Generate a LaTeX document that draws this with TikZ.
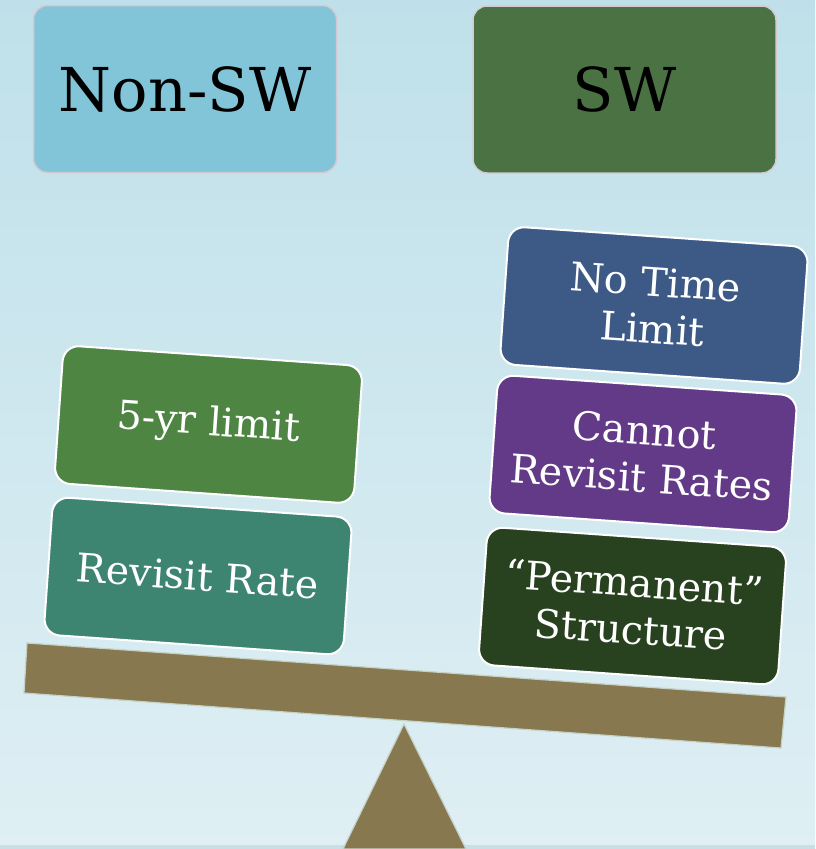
\documentclass[tikz,border=0pt]{standalone}
\usepackage{fontspec}
\setmainfont{DejaVu Serif}
\definecolor{bgtop}{HTML}{BFE0EA}
\definecolor{bgbot}{HTML}{DFEFF4}
\definecolor{ground}{HTML}{C8DFE6}
\definecolor{topedge}{HTML}{D3CAD3}
\definecolor{nonswc}{HTML}{83C5D8}
\definecolor{swc}{HTML}{4A7243}
\definecolor{fivec}{HTML}{4E8542}
\definecolor{revc}{HTML}{3D8571}
\definecolor{notimec}{HTML}{3D5A87}
\definecolor{cannotc}{HTML}{633A87}
\definecolor{permc}{HTML}{28421F}
\definecolor{woodc}{HTML}{877850}
\definecolor{woodedge}{HTML}{C6D2C6}
\begin{document}
\begin{tikzpicture}[x=1pt,y=-1pt,
  toplbl/.style={draw=topedge, line width=1.5pt, rounded corners=14pt,
    minimum width=303pt, minimum height=167pt, inner sep=0pt,
    text=black, font=\fontsize{60.5}{66}\selectfont},
  tile/.style={draw=white, line width=2pt, rounded corners=16pt,
    minimum width=300pt, minimum height=138pt, inner sep=0pt, rotate=-4,
    text=white, align=center, font=\fontsize{39.5}{47}\selectfont},
  wood/.style={fill=woodc, draw=woodedge, line width=1.2pt, line join=miter}]
\useasboundingbox (0,0) rectangle (815,849);
\fill[top color=bgtop, bottom color=bgbot] (0,0) rectangle (815,849);
\fill[ground] (0,845) rectangle (815,849);

\node[toplbl, fill=nonswc] (nonsw) at (185,89) {Non-SW};
\node[toplbl, fill=swc] (sw) at (624.5,89.5) {SW};

\coordinate (apex) at (404,724);
\coordinate (bl) at (343,849);
\coordinate (br) at (466,849);
\draw[wood] (apex) -- (br) -- (bl) -- cycle;

\coordinate (b1) at (27,643);
\coordinate (b2) at (786,697);
\coordinate (b3) at (781,748);
\coordinate (b4) at (24,693);
\draw[wood] (b1) -- (b2) -- (b3) -- (b4) -- cycle;

\node[tile, fill=fivec] (five) at (208.5,424.5) {5-yr limit};
\node[tile, fill=revc] (rev) at (198,576) {Revisit Rate};
\node[tile, fill=notimec] (notime) at (654,305.5) {No Time\\Limit};
\node[tile, fill=cannotc] (cannot) at (643,454) {Cannot\\Revisit Rates};
\node[tile, fill=permc] (perm) at (632.5,606) {``Permanent''\\Structure};
\end{tikzpicture}
\end{document}
